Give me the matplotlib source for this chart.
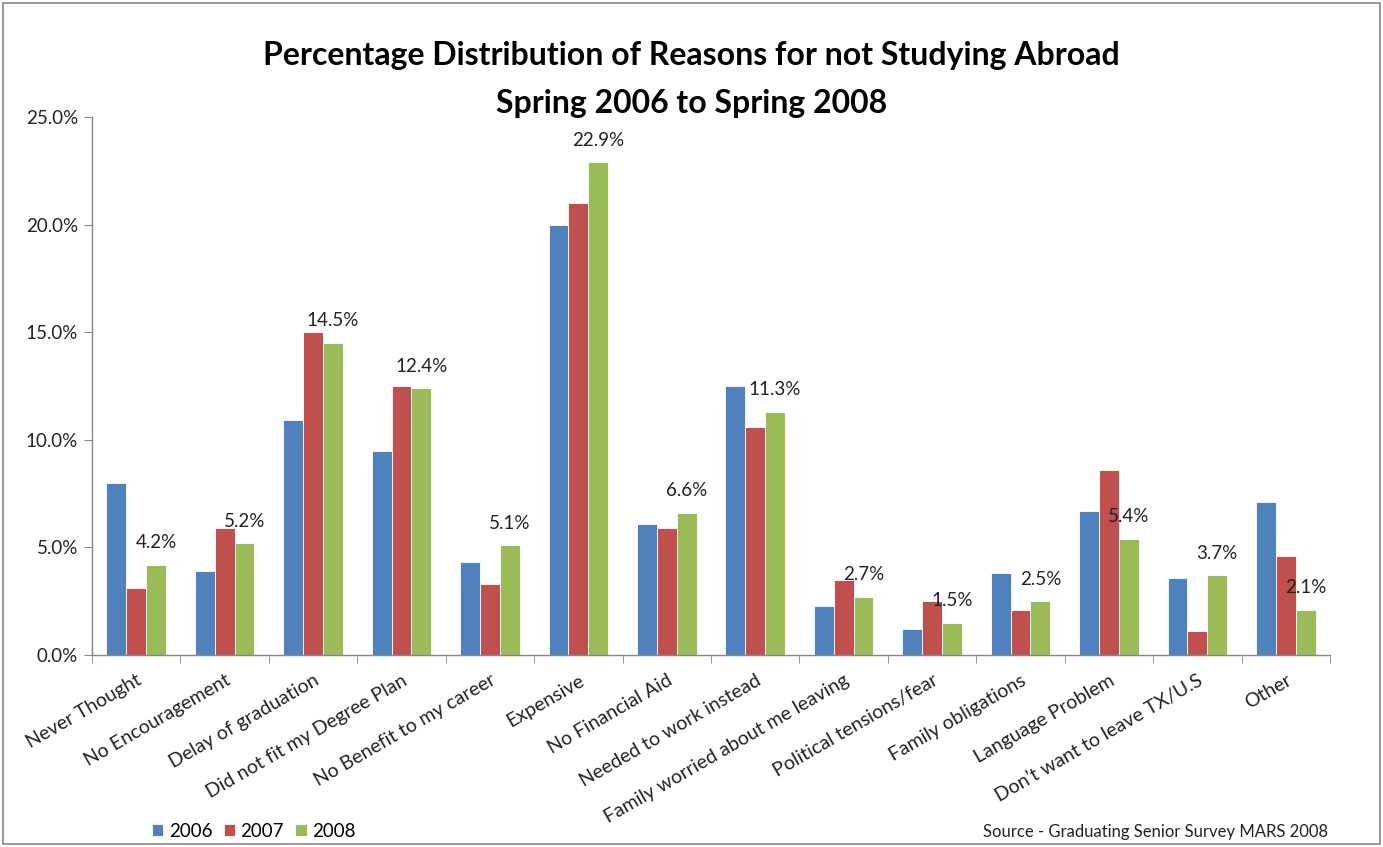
import matplotlib
matplotlib.use("Agg")
import matplotlib.pyplot as plt
import numpy as np
from matplotlib.ticker import FuncFormatter, FixedLocator
from matplotlib.patches import Rectangle

plt.rcParams['font.family'] = ['Lato', 'DejaVu Sans']

categories = ["Never Thought", "No Encouragement", "Delay of graduation",
              "Did not fit my Degree Plan", "No Benefit to my career", "Expensive",
              "No Financial Aid", "Needed to work instead", "Family worried about me leaving",
              "Political tensions/fear", "Family obligations", "Language Problem",
              "Don\u2019t want to leave TX/U.S", "Other"]
years = ["2006", "2007", "2008"]
v2006 = [8.0, 3.9, 10.9, 9.5, 4.3, 20.0, 6.1, 12.5, 2.3, 1.2, 3.8, 6.7, 3.6, 7.1]
v2007 = [3.1, 5.9, 15.0, 12.5, 3.3, 21.0, 5.9, 10.6, 3.5, 2.5, 2.1, 8.6, 1.1, 4.6]
v2008 = [4.2, 5.2, 14.5, 12.4, 5.1, 22.9, 6.6, 11.3, 2.7, 1.5, 2.5, 5.4, 3.7, 2.1]
colors = ["#4F81BD", "#C0504D", "#9BBB59"]

W, H = 1383, 847
fig = plt.figure(figsize=(W / 100, H / 100), dpi=100)
ax = fig.add_axes([92 / W, (H - 655) / H, (1330 - 92) / W, (655 - 117) / H])

x = np.arange(len(categories))
bw = 0.225
series = [v2006, v2007, v2008]
for i, (vals, c, yr) in enumerate(zip(series, colors, years)):
    ax.bar(x + (i - 1) * bw, vals, bw, color=c, edgecolor="white", linewidth=0.6, label=yr)

for xi, v in zip(x, v2008):
    ax.annotate(f"{v:.1f}%", (xi + bw, v), xytext=(0, 22), textcoords="offset pixels",
                ha="center", va="center", fontsize=13.5, color="#222222")

ax.set_xlim(-0.5, len(categories) - 0.5)
ax.set_ylim(0, 25)
ax.set_yticks(np.arange(0, 25.1, 5))
ax.yaxis.set_major_formatter(FuncFormatter(lambda v, p: f"{v:.1f}%"))
ax.tick_params(axis="y", labelsize=13.5, length=6, color="#888888", pad=4, labelcolor="#222222")

ax.set_xticks(x)
ax.set_xticklabels(categories, rotation=30, ha="right", rotation_mode="anchor",
                   fontsize=14, color="#222222")
ax.tick_params(axis="x", length=0, pad=12)
ax.xaxis.set_minor_locator(FixedLocator(np.arange(-0.5, len(categories), 1.0)))
ax.tick_params(axis="x", which="minor", length=6, color="#888888")

for s in ["top", "right"]:
    ax.spines[s].set_visible(False)
for s in ["left", "bottom"]:
    ax.spines[s].set_color("#888888")
    ax.spines[s].set_linewidth(1.0)

fig.text(0.5, (H - 55) / H, "Percentage Distribution of Reasons for not Studying Abroad",
         ha="center", va="center", fontsize=23, fontweight="bold")
fig.text(0.5, (H - 103) / H, "Spring 2006 to Spring 2008",
         ha="center", va="center", fontsize=23, fontweight="bold")

leg = fig.legend(loc="center left", bbox_to_anchor=(152 / W, (H - 831) / H), ncol=3,
                 frameon=False, fontsize=13.5, handlelength=0.6, handleheight=0.6,
                 handletextpad=0.3, columnspacing=0.6, borderaxespad=0, borderpad=0)

fig.text(1328 / W, (H - 832) / H, "Source - Graduating Senior Survey MARS 2008",
         ha="right", va="center", fontsize=12, color="#222222")

fig.patches.append(Rectangle((3 / W, 3 / H), (W - 6) / W, (H - 6) / H, transform=fig.transFigure,
                             fill=False, edgecolor="#888888", linewidth=1.2))

fig.savefig("out.png", dpi=100)
